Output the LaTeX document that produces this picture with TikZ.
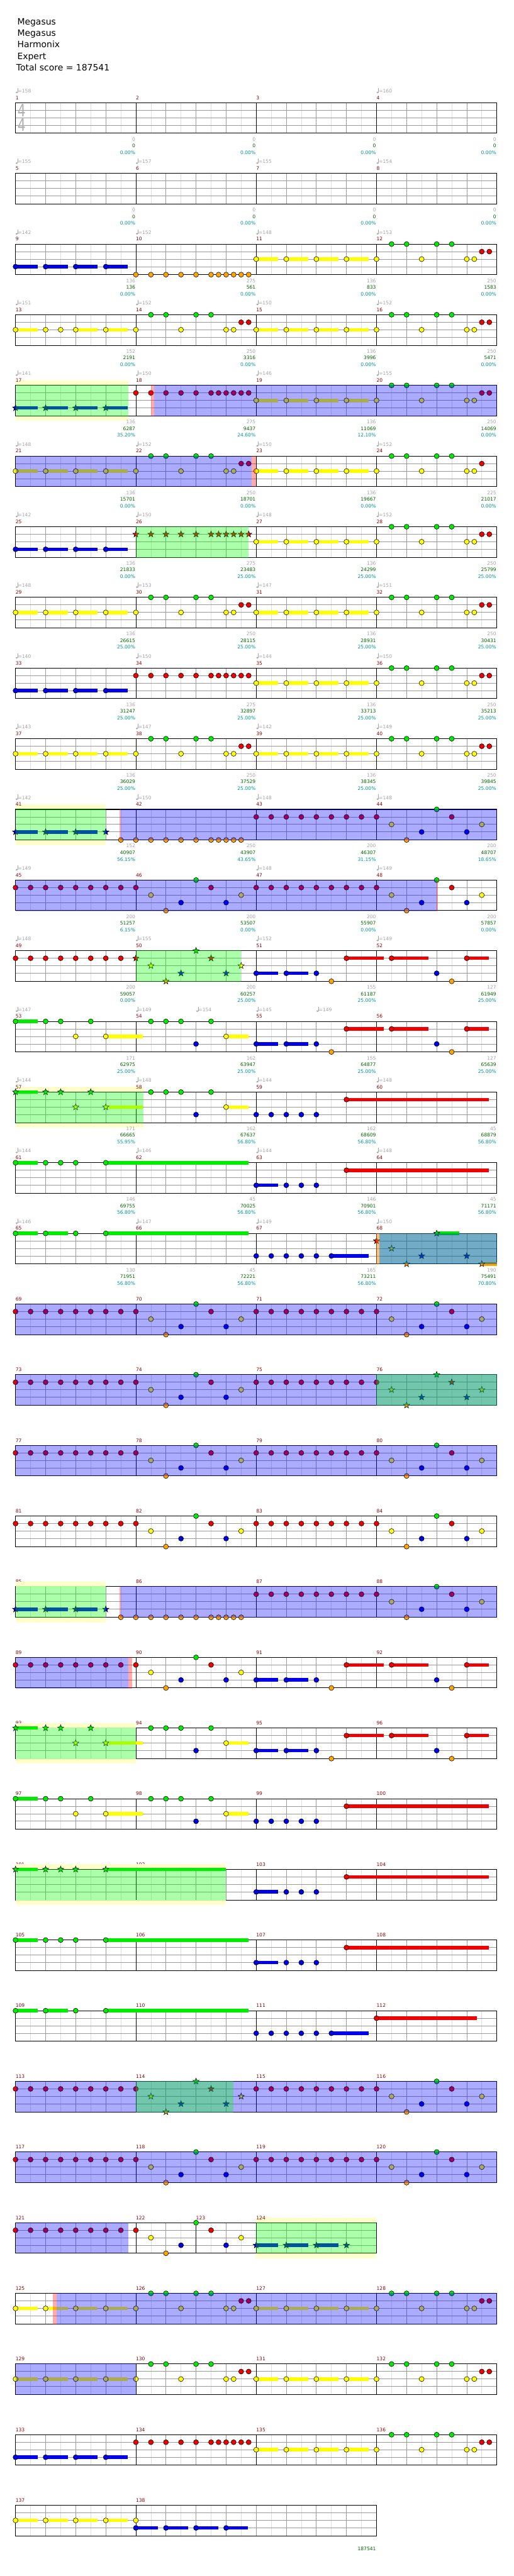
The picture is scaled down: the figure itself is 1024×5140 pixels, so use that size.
\documentclass[tikz,border=0pt]{standalone}
\usepackage{fontspec}
\setmainfont{DejaVu Sans}
\definecolor{N0}{RGB}{0,235,0}
\definecolor{N1}{RGB}{240,0,0}
\definecolor{N2}{RGB}{255,255,0}
\definecolor{N3}{RGB}{0,0,235}
\definecolor{N4}{RGB}{255,165,0}
\definecolor{mnum}{RGB}{139,0,0}
\definecolor{lgray}{RGB}{165,165,165}
\definecolor{lgreen}{RGB}{0,100,0}
\definecolor{lteal}{RGB}{0,150,150}
\definecolor{gbeat}{RGB}{155,155,155}
\definecolor{geighth}{RGB}{222,222,222}
\definecolor{ybg}{RGB}{255,255,204}
\definecolor{tsgray}{RGB}{175,175,175}
\tikzset{
  nb/.style={draw=black,line width=0.7pt},
  lbl/.style={font=\fontsize{9.5}{10}\selectfont,inner sep=0pt},
  spov/.style={fill=blue,fill opacity=0.33},
  grov/.style={fill=green,fill opacity=0.33},
  rdov/.style={fill=red,fill opacity=0.33},
}
\newcommand\R[1]{\pgfmathtruncatemacro\rt{205+141*#1}}
\newcommand\Staff[2]{%
  \pgfmathsetmacro\xe{31+15*#1}%
  \pgfmathtruncatemacro\ne{#1-2}%
  \pgfmathtruncatemacro\nbt{#1-4}%
  \foreach \i in {2,6,...,\ne} \draw[geighth,line width=0.8pt] ({31+15*\i},\rt) -- ++(0,61);
  \foreach \i in {4,8,...,\nbt} \draw[gbeat,line width=0.9pt] ({31+15*\i},\rt) -- ++(0,61);
  \foreach \j in {15,30,45} \draw[gbeat,line width=1.1pt] (31,{\rt+\j}) -- (\xe,{\rt+\j});
  \foreach \i in {#2} \draw[black,line width=0.8pt] ({31+15*\i},\rt) -- ++(0,61);
  \draw[black,line width=1.3pt] (31,\rt) rectangle (\xe,{\rt+61});
}
\newcommand\NL[1]{\foreach \s/\l in {#1}{\draw[nb,fill=N\l] ({31+15*(\s)},{\rt+15*\l+(\l>3)}) circle[radius=5pt];}}
\newcommand\SN[1]{\foreach \s/\l in {#1}{\begin{scope}[shift={({31+15*(\s)},{\rt+15*\l+(\l>3)})}]\draw[nb,fill=N\l] (-90:6.5) -- (-54:2.7) -- (-18:6.5) -- (18:2.7) -- (54:6.5) -- (90:2.7) -- (126:6.5) -- (162:2.7) -- (198:6.5) -- (234:2.7) -- cycle;\end{scope}}}
\newcommand\SL[1]{\foreach \s/\l/\w in {#1}{\fill[N\l] ({31+15*(\s)},{\rt+15*\l+(\l>3)-3.5}) rectangle ++(\w,7);}}
\newcommand\BR[2]{\fill[spov] ({31+15*(#1)},{\rt-0.7}) rectangle ({31+15*(#2)},{\rt+61.7});}
\newcommand\GR[2]{\fill[grov] ({31+15*(#1)},{\rt-0.7}) rectangle ({31+15*(#2)},{\rt+61.7});}
\newcommand\RS[2]{\fill[rdov] ({31+15*(#1)},{\rt-0.7}) rectangle ({31+15*(#2)},{\rt+61.7});}
\newcommand\YB[2]{\fill[ybg] ({31+15*(#1)},{\rt-10}) rectangle ({31+15*(#2)},{\rt}); \fill[ybg] ({31+15*(#1)},{\rt+61}) rectangle ({31+15*(#2)},{\rt+71});}
\newcommand\T[2]{\fill[lgray] ({31+15*(#1)+2.2},{\rt-20.5}) circle[x radius=2.2pt,y radius=1.6pt];
 \draw[lgray,line width=0.6pt] ({31+15*(#1)+4},{\rt-20.5}) -- ++(0,-9);
 \node[lbl,text=lgray,anchor=base west] (tp\rt-#1) at ({31+15*(#1)+4.6},{\rt-20}) {=#2};}
\newcommand\M[6]{%
 \node[lbl,text=mnum,anchor=base west] (mn#1) at ({31+15*(#2)},{\rt-6.5}) {#1};
 \node[lbl,text=lgray,anchor=base east] (ma#1) at ({31+15*(#3)-1},{\rt+76.5}) {#4};
 \node[lbl,text=lgreen,anchor=base east] (mb#1) at ({31+15*(#3)-1},{\rt+89.5}) {#5};
 \node[lbl,text=lteal,anchor=base east] (mc#1) at ({31+15*(#3)-1},{\rt+103}) {#6};}
\newcommand\PA[1]{\NL{#1+2/0,#1+4/0,#1+8/0,#1+10/0,#1+6/2,#1+12/2,#1+13/2,#1+14/1,#1+15/1}}
\newcommand\PY[1]{\SL{#1/2/44,#1+4/2/44,#1+8/2/44,#1+12/2/44}\NL{#1/2,#1+4/2,#1+8/2,#1+12/2,#1+16/2}}
\newcommand\PB[1]{\SL{#1/3/44,#1+4/3/44,#1+8/3/44,#1+12/3/44}\NL{#1/3,#1+4/3,#1+8/3,#1+12/3}}
\newcommand\PR[2]{\NL{#1/#2,#1+2/#2,#1+4/#2,#1+6/#2,#1+8/#2,#1+10/#2,#1+11/#2,#1+12/#2,#1+13/#2,#1+14/#2,#1+15/#2}}
\newcommand\PQ[1]{\NL{#1/1,#1+2/1,#1+4/1,#1+6/1,#1+8/1,#1+10/1,#1+12/1,#1+14/1,#1+16/1}}
\newcommand\PZ[1]{\NL{#1+2/2,#1+4/4,#1+6/3,#1+8/0,#1+10/1,#1+12/3,#1+14/2}}
\newcommand\PZS[1]{\SN{#1+2/2,#1+4/4,#1+6/3,#1+8/0,#1+10/1,#1+12/3,#1+14/2}}
\newcommand\PBR[1]{\SL{#1/3/44,#1+4/3/44,#1+12/1/74,#1+18/1/74,#1+28/1/44}\NL{#1/3,#1+4/3,#1+8/3,#1+10/4,#1+12/1,#1+18/1,#1+24/3,#1+26/4,#1+28/1}}
\begin{document}
\begin{tikzpicture}[x=1pt,y=-1pt]
\useasboundingbox (0,0) rectangle (1024,5140);
\fill[white] (0,0) rectangle (1024,5140);
\node[anchor=base west,font=\fontsize{17.5}{20}\selectfont] (t1) at (31,49) {Megasus};
\node[anchor=base west,font=\fontsize{17.5}{20}\selectfont] (t2) at (31,72) {Megasus};
\node[anchor=base west,font=\fontsize{17.5}{20}\selectfont] (t3) at (31,95) {Harmonix};
\node[anchor=base west,font=\fontsize{17.5}{20}\selectfont] (t4) at (31,118) {Expert};
\node[anchor=base west,font=\fontsize{17.5}{20}\selectfont] (t5) at (29,141) {Total score = 187541};
% row 0
\R{0}\Staff{64}{16,32,48}
\node[font=\fontsize{34}{34}\selectfont,text=tsgray,inner sep=0pt] (ts1) at (43,220.5) {\scalebox{0.75}[1]{4}};
\node[font=\fontsize{34}{34}\selectfont,text=tsgray,inner sep=0pt] (ts2) at (43,249.5) {\scalebox{0.75}[1]{4}};
\T{0}{158}\T{48}{160}
\M{1}{0}{16}{0}{0}{0.00\%}\M{2}{16}{32}{0}{0}{0.00\%}\M{3}{32}{48}{0}{0}{0.00\%}\M{4}{48}{64}{0}{0}{0.00\%}
% row 1
\R{1}\Staff{64}{16,32,48}
\T{0}{155}\T{16}{157}\T{32}{155}\T{48}{154}
\M{5}{0}{16}{0}{0}{0.00\%}\M{6}{16}{32}{0}{0}{0.00\%}\M{7}{32}{48}{0}{0}{0.00\%}\M{8}{48}{64}{0}{0}{0.00\%}
% row 2
\R{2}\Staff{64}{16,32,48}
\PB{0}\PR{16}{4}\PY{32}\PA{48}
\T{0}{142}\T{16}{152}\T{32}{148}\T{48}{153}
\M{9}{0}{16}{136}{136}{0.00\%}\M{10}{16}{32}{275}{561}{0.00\%}\M{11}{32}{48}{136}{833}{0.00\%}\M{12}{48}{64}{250}{1583}{0.00\%}
% row 3
\R{3}\Staff{64}{16,32,48}
\SL{0/2/44,8/2/44,12/2/44}\NL{0/2,4/2,6/2,8/2,12/2,16/2}\PA{16}\PY{32}\PA{48}
\T{0}{151}\T{16}{152}\T{32}{150}\T{48}{152}
\M{13}{0}{16}{152}{2191}{0.00\%}\M{14}{16}{32}{250}{3316}{0.00\%}\M{15}{32}{48}{136}{3996}{0.00\%}\M{16}{48}{64}{250}{5471}{0.00\%}
% row 4
\R{4}\YB{0}{15}\Staff{64}{16,32,48}
\SL{0/3/44,4/3/44,8/3/44,12/3/44}\SN{0/3,4/3,8/3,12/3}\PR{16}{1}\PY{32}\PA{48}
\GR{0}{15}\RS{18}{18.4}\BR{18.4}{64}
\T{0}{141}\T{16}{150}\T{32}{146}\T{48}{155}
\M{17}{0}{16}{136}{6287}{35.20\%}\M{18}{16}{32}{275}{9437}{24.60\%}\M{19}{32}{48}{136}{11069}{12.10\%}\M{20}{48}{64}{250}{14069}{0.00\%}
% row 5
\R{5}\Staff{64}{16,32,48}
\PY{0}\PA{16}\PY{32}\NL{50/0,52/0,56/0,58/0,54/2,60/2,61/2,62/1}
\BR{0}{31.4}\RS{31.4}{32}
\T{0}{148}\T{16}{152}\T{32}{150}\T{48}{152}
\M{21}{0}{16}{136}{15701}{0.00\%}\M{22}{16}{32}{250}{18701}{0.00\%}\M{23}{32}{48}{136}{19667}{0.00\%}\M{24}{48}{64}{225}{21017}{0.00\%}
% row 6
\R{6}\Staff{64}{16,32,48}
\PB{0}\SN{16/1,18/1,20/1,22/1,24/1,26/1,27/1,28/1,29/1,30/1,31/1}\PY{32}\PA{48}
\GR{16}{31}
\T{0}{142}\T{16}{150}\T{32}{148}\T{48}{152}
\M{25}{0}{16}{136}{21833}{0.00\%}\M{26}{16}{32}{275}{23483}{25.00\%}\M{27}{32}{48}{136}{24299}{25.00\%}\M{28}{48}{64}{250}{25799}{25.00\%}
% row 7
\R{7}\Staff{64}{16,32,48}
\PY{0}\PA{16}\PY{32}\PA{48}
\T{0}{148}\T{16}{153}\T{32}{147}\T{48}{151}
\M{29}{0}{16}{136}{26615}{25.00\%}\M{30}{16}{32}{250}{28115}{25.00\%}\M{31}{32}{48}{136}{28931}{25.00\%}\M{32}{48}{64}{250}{30431}{25.00\%}
% row 8
\R{8}\Staff{64}{16,32,48}
\PB{0}\PR{16}{1}\PY{32}\PA{48}
\T{0}{140}\T{16}{150}\T{32}{144}\T{48}{150}
\M{33}{0}{16}{136}{31247}{25.00\%}\M{34}{16}{32}{275}{32897}{25.00\%}\M{35}{32}{48}{136}{33713}{25.00\%}\M{36}{48}{64}{250}{35213}{25.00\%}
% row 9
\R{9}\Staff{64}{16,32,48}
\PY{0}\PA{16}\PY{32}\PA{48}
\T{0}{143}\T{16}{147}\T{32}{142}\T{48}{149}
\M{37}{0}{16}{136}{36029}{25.00\%}\M{38}{16}{32}{250}{37529}{25.00\%}\M{39}{32}{48}{136}{38345}{25.00\%}\M{40}{48}{64}{250}{39845}{25.00\%}
% row 10
\R{10}\YB{0}{12}\Staff{64}{16,32,48}
\SL{0/3/44,4/3/44,8/3/44}\SN{0/3,4/3,8/3,12/3}
\NL{14/4,16/4,18/4,20/4,22/4,24/4,26/4,27/4,28/4,29/4,30/4}
\NL{32/1,34/1,36/1,38/1,40/1,42/1,44/1,46/1,48/1}
\NL{50/2,52/4,54/3,56/0,58/1,60/3,62/2}
\GR{0}{12}\RS{13.8}{14}\BR{14}{64}
\T{0}{142}\T{16}{150}\T{32}{148}\T{48}{148}
\M{41}{0}{16}{152}{40907}{56.15\%}\M{42}{16}{32}{250}{43907}{43.65\%}\M{43}{32}{48}{200}{46307}{31.15\%}\M{44}{48}{64}{200}{48707}{18.65\%}
% row 11
\R{11}\Staff{64}{16,32,48}
\PQ{0}\PZ{16}\PQ{32}\PZ{48}
\BR{0}{56}\RS{56}{56.2}
\T{0}{149}\T{32}{148}\T{48}{149}
\M{45}{0}{16}{200}{51257}{6.15\%}\M{46}{16}{32}{200}{53507}{0.00\%}\M{47}{32}{48}{200}{55907}{0.00\%}\M{48}{48}{64}{200}{57857}{0.00\%}
% row 12
\R{12}\Staff{64}{16,32,48}
\NL{0/1,2/1,4/1,6/1,8/1,10/1,12/1,14/1}
\SN{16/1,18/2,20/4,22/3,24/0,26/1,28/3,30/2}
\PBR{32}
\GR{16}{30}
\T{0}{148}\T{16}{155}\T{32}{152}\T{48}{149}
\M{49}{0}{16}{200}{59057}{0.00\%}\M{50}{16}{32}{200}{60257}{25.00\%}\M{51}{32}{48}{155}{61187}{25.00\%}\M{52}{48}{64}{127}{61949}{25.00\%}
% row 13
\R{13}\Staff{64}{16,32,48}
\SL{0/0/44,12/2/74,28/2/45}\NL{0/0,4/0,6/0,10/0,8/2,12/2,18/0,20/0,22/0,26/0,24/3,28/2}
\PBR{32}
\T{0}{147}\T{16}{149}\T{24}{154}\T{32}{145}\T{40}{149}
\M{53}{0}{16}{171}{62975}{25.00\%}\M{54}{16}{32}{162}{63947}{25.00\%}\M{55}{32}{48}{155}{64877}{25.00\%}\M{56}{48}{64}{127}{65639}{25.00\%}
% row 14
\R{14}\YB{0}{17}\Staff{64}{16,32,48}
\SL{0/0/44,12/2/74}\SN{0/0,4/0,6/0,10/0,8/2,12/2}
\SL{28/2/45}\NL{18/0,20/0,22/0,26/0,24/3,28/2}
\NL{32/3,34/3,36/3,38/3,40/3}
\SL{44/1/284}\NL{44/1}
\GR{0}{17}
\T{0}{144}\T{16}{148}\T{32}{144}\T{48}{148}
\M{57}{0}{16}{171}{66665}{55.95\%}\M{58}{16}{32}{162}{67637}{56.80\%}\M{59}{32}{48}{162}{68609}{56.80\%}\M{60}{48}{64}{45}{68879}{56.80\%}
% row 15
\R{15}\Staff{64}{16,32,48}
\SL{0/0/44,12/0/285,32/3/44,44/1/284}\NL{0/0,4/0,6/0,8/0,12/0,32/3,36/3,38/3,40/3,44/1}
\T{0}{144}\T{16}{146}\T{32}{144}\T{48}{148}
\M{61}{0}{16}{146}{69755}{56.80\%}\M{62}{16}{32}{45}{70025}{56.80\%}\M{63}{32}{48}{146}{70901}{56.80\%}\M{64}{48}{64}{45}{71171}{56.80\%}
% row 16
\R{16}\Staff{64}{16,32,48}
\SL{0/0/44,4/0/44,12/0/285,42/3/74}\NL{0/0,4/0,8/0,12/0,32/3,34/3,36/3,38/3,40/3,42/3}
\SL{56/0/45,62/4/30}\SN{48/1,50/2,52/4,54/3,56/0,60/3,62/4}
\fill[orange,fill opacity=0.5] ({31+15*48},{\rt-0.7}) rectangle ({31+15*48.35},{\rt+61.7});
\GR{48.35}{64}\BR{48.35}{64}
\T{0}{146}\T{16}{147}\T{32}{149}\T{48}{150}
\M{65}{0}{16}{130}{71951}{56.80\%}\M{66}{16}{32}{45}{72221}{56.80\%}\M{67}{32}{48}{165}{73211}{56.80\%}\M{68}{48}{64}{190}{75491}{70.80\%}
% rows 17-33 grids and measure numbers (row 30 has short measures)
\foreach \k in {17,...,29,31,32,33}{\R{\k}\Staff{64}{16,32,48}
 \foreach \j in {0,1,2,3}{\pgfmathtruncatemacro\mm{4*\k+\j+1}\M{\mm}{16*\j}{16*\j+16}{}{}{}}}
% row 17
\R{17}\PQ{0}\PZ{16}\PQ{32}\PZ{48}\BR{0}{64}
% row 18
\R{18}\PQ{0}\PZ{16}\PQ{32}\PZS{48}\BR{0}{64}\GR{48}{64}
% row 19
\R{19}\PQ{0}\PZ{16}\PQ{32}\PZ{48}\BR{0}{64}
% row 20
\R{20}\PQ{0}\PZ{16}\PQ{32}\PZ{48}
% row 21
\R{21}\YB{0}{12}
\SL{0/3/44,4/3/44,8/3/44}\SN{0/3,4/3,8/3,12/3}
\NL{14/4,16/4,18/4,20/4,22/4,24/4,26/4,27/4,28/4,29/4,30/4}
\PQ{32}\PZ{48}
\GR{0}{12}\RS{13.8}{14}\BR{14}{64}
% row 22
\R{22}\PQ{0}\PZ{16}\PBR{32}\BR{0}{15}\RS{15}{15.5}
% row 23
\R{23}\YB{0}{16}
\SL{0/0/44,12/2/74}\SN{0/0,4/0,6/0,10/0,8/2,12/2}
\SL{28/2/45}\NL{18/0,20/0,22/0,26/0,24/3,28/2}\PBR{32}
\GR{0}{16}
% row 24
\R{24}\SL{0/0/44,12/2/74,28/2/45}\NL{0/0,4/0,6/0,10/0,8/2,12/2,18/0,20/0,22/0,26/0,24/3,28/2}
\NL{32/3,34/3,36/3,38/3,40/3}\SL{44/1/284}\NL{44/1}
% row 25
\R{25}\YB{0}{28}
\SL{0/0/44,12/0/240}\SN{0/0,4/0,6/0,8/0,12/0}
\SL{32/3/44,44/1/284}\NL{32/3,36/3,38/3,40/3,44/1}
\GR{0}{28}
% row 26
\R{26}\SL{0/0/44,12/0/285,32/3/44,44/1/284}\NL{0/0,4/0,6/0,8/0,12/0,32/3,36/3,38/3,40/3,44/1}
% row 27
\R{27}\SL{0/0/44,4/0/44,12/0/285,42/3/74,48/1/200}\NL{0/0,4/0,8/0,12/0,32/3,34/3,36/3,38/3,40/3,42/3,48/1}
% row 28
\R{28}\PQ{0}\PZS{16}\PQ{32}\PZ{48}\BR{0}{64}\GR{16}{29}
% row 29
\R{29}\PQ{0}\PZ{16}\PQ{32}\PZ{48}\BR{0}{64}
% row 30
\R{30}\YB{32}{48}\Staff{48}{16,24,32}
\PQ{0}\NL{18/2,20/4,22/3,24/0,26/1,28/3,30/2}
\SL{32/3/44,36/3/44,40/3/44}\SN{32/3,36/3,40/3,44/3}
\BR{0}{15}\GR{32}{48}
\M{121}{0}{16}{}{}{}\M{122}{16}{24}{}{}{}\M{123}{24}{32}{}{}{}\M{124}{32}{48}{}{}{}
% row 31
\R{31}\PY{0}\PA{16}\PY{32}\PA{48}\RS{5}{5.5}\BR{5.5}{64}
% row 32
\R{32}\PY{0}\PA{16}\PY{32}\PA{48}\BR{0}{16}
% row 33
\R{33}\PB{0}\PR{16}{1}\PY{32}\PA{48}
% row 34
\R{34}\Staff{48}{16}
\PY{0}\PB{16}
\M{137}{0}{16}{}{}{}\M{138}{16}{48}{}{187541}{}
\end{tikzpicture}
\end{document}
